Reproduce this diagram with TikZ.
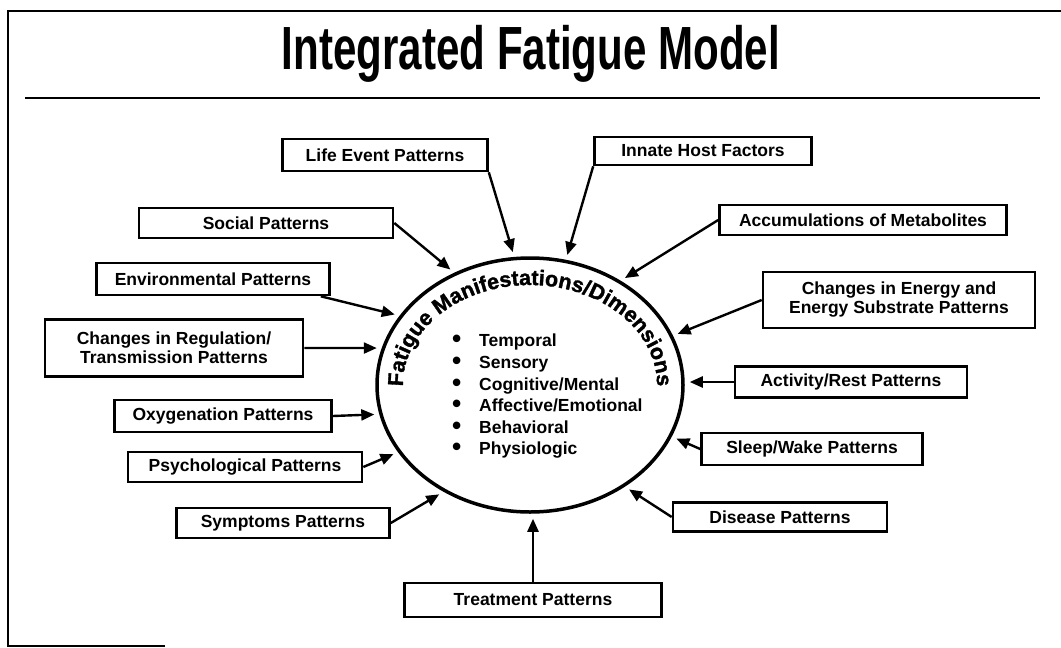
\documentclass[tikz,border=0pt]{standalone}
\usepackage{fontspec}
\setmainfont{Liberation Sans}
\newfontfamily\ringfam{Liberation Sans}[UprightFont={* Bold}, UprightFeatures={FakeBold=1.5}]
\usepackage{graphicx}
\usetikzlibrary{arrows.meta, decorations.text, shapes.geometric}

\newcommand\boxfont{\bfseries\fontsize{17.5}{19}\selectfont}
\newcommand\listfont{\bfseries\fontsize{17.5}{21.6}\selectfont}
\newcommand\ringfont{\ringfam\fontsize{21.5}{21.5}\selectfont}
\newcommand\bul{\makebox[27pt][l]{\raisebox{-1pt}{\scalebox{1.5}{\textbullet}}}}

\begin{document}
\begin{tikzpicture}[
            x=1pt, y=-1pt,
            box/.style={draw, line width=2.6pt, fill=white, align=center, inner sep=0pt, font=\boxfont},
            arrow/.style={-{Triangle[length=13pt,width=11pt]}, line width=2.4pt, shorten >=5pt},
            frame/.style={line width=2pt}
        ]
            \useasboundingbox (0,0) rectangle (1061,648);

            % slide frame and title
            \draw[frame] (1061,11) -- (8,11) -- (8,646) -- (165,646);
            \node (title) at (531,54) {\scalebox{0.69}[1]{\bfseries\fontsize{61}{61}\selectfont Integrated Fatigue Model}};
            \draw[line width=2.5pt] (25,98) -- (1040,98);

            % central ellipse
            \node[draw, ellipse, line width=3.5pt, minimum width=306pt, minimum height=254pt, inner sep=0pt] (fm) at (530,385) {};
            \path[decorate, decoration={text along path, text align=center,
                text={|\ringfont|Fatigue Manifestations/Dimensions}}]
                (530,385) ++(174:127 and 100) arc[start angle=174, end angle=366, x radius=127, y radius=100];
            \node[anchor=north west, inner sep=0pt, align=left, font=\listfont] (dims) at (452,334)
                {\bul Temporal\\ \bul Sensory\\ \bul Cognitive/Mental\\ \bul Affective/Emotional\\ \bul Behavioral\\ \bul Physiologic};

            % pattern boxes
            \node[box, minimum width=205pt, minimum height=32pt] (life) at (385,155) {Life Event Patterns};
            \node[box, minimum width=217pt, minimum height=28pt] (innate) at (703,151) {Innate Host Factors};
            \node[box, minimum width=254pt, minimum height=30pt] (social) at (266,223) {Social Patterns};
            \node[box, minimum width=287pt, minimum height=30pt] (accum) at (863,220) {Accumulations of Metabolites};
            \node[box, minimum width=233pt, minimum height=32pt] (env) at (213,279) {Environmental Patterns};
            \node[box, minimum width=272pt, minimum height=56pt] (energy) at (899,300) {Changes in Energy and\\Energy Substrate Patterns};
            \node[box, minimum width=258pt, minimum height=57pt] (reg) at (174,348) {Changes in Regulation/\\Transmission Patterns};
            \node[box, minimum width=232pt, minimum height=31pt] (activity) at (851,382) {Activity/Rest Patterns};
            \node[box, minimum width=217pt, minimum height=32pt] (oxy) at (223,416) {Oxygenation Patterns};
            \node[box, minimum width=234pt, minimum height=30pt] (psych) at (245,467) {Psychological Patterns};
            \node[box, minimum width=221pt, minimum height=32pt] (sleep) at (812,449) {Sleep/Wake Patterns};
            \node[box, minimum width=213pt, minimum height=30pt] (symptoms) at (283,523) {Symptoms Patterns};
            \node[box, minimum width=214pt, minimum height=29pt] (disease) at (780,517) {Disease Patterns};
            \node[box, minimum width=257pt, minimum height=34pt] (treat) at (533,600) {Treatment Patterns};

            % arrows into the ellipse
            \draw[arrow] (life.south east) -- (fm.97);
            \draw[arrow] (innate.south west) -- (fm.74);
            \draw[arrow] (social.east) -- (fm.124);
            \draw[arrow] (accum.west) -- (fm.49);
            \draw[arrow] ([xshift=-10pt]env.south east) -- (fm.152);
            \draw[arrow] (reg.east) -- (fm.166);
            \draw[arrow] (oxy.east) -- (fm.191);
            \draw[arrow] (psych.east) -- (fm.207);
            \draw[arrow] (symptoms.east) -- (fm.231);
            \draw[arrow] (treat.north) -- (treat.north |- fm.south);
            \draw[arrow] (disease.west) -- (fm.313);
            \draw[arrow] (sleep.west) -- (fm.340);
            \draw[arrow] (activity.west) -- (activity.west -| fm.east);
            \draw[arrow] (energy.west) -- (fm.19);

        \end{tikzpicture}
\end{document}
